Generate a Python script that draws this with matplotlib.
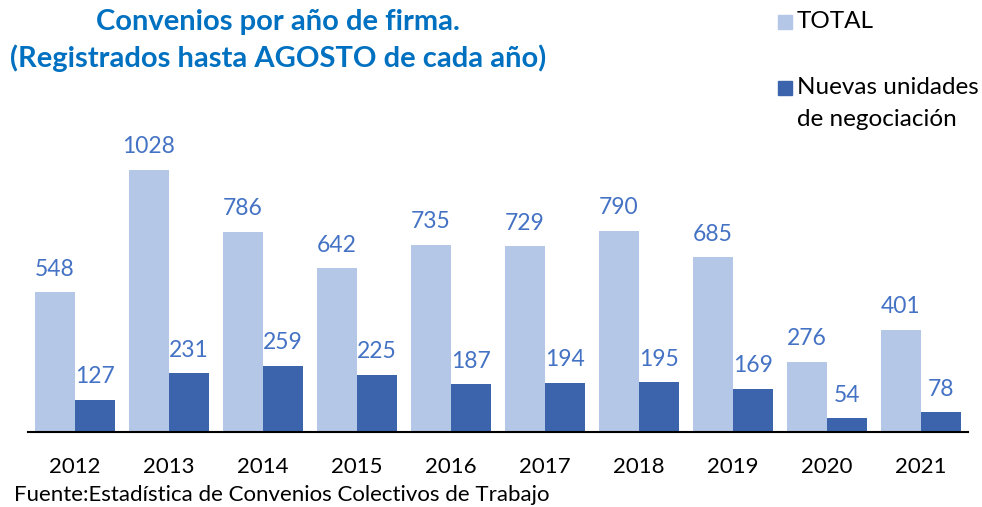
import matplotlib
matplotlib.use("Agg")
import matplotlib.pyplot as plt
from matplotlib.patches import Rectangle
import numpy as np

years = ["2012", "2013", "2014", "2015", "2016", "2017", "2018", "2019", "2020", "2021"]
total = [548, 1028, 786, 642, 735, 729, 790, 685, 276, 401]
nuevas = [127, 231, 259, 225, 187, 194, 195, 169, 54, 78]

plt.rcParams['font.family'] = ['Lato', 'DejaVu Sans']

W, H = 982, 507
fig = plt.figure(figsize=(W/100, H/100), dpi=100)
ax = fig.add_axes([0.0285, 0.1479, 0.9572, 0.6537])

c_light = "#B4C7E7"
c_dark = "#3C64AC"
c_lab = "#4472C4"
w = 0.425
x = np.arange(len(years))
b1 = ax.bar(x - w/2, total, w, color=c_light, label="TOTAL")
b2 = ax.bar(x + w/2, nuevas, w, color=c_dark, label="Nuevas unidades de negociación")
for bars in (b1, b2):
    for r in bars:
        ax.annotate(f"{int(r.get_height())}", (r.get_x() + r.get_width()/2, r.get_height()),
                    xytext=(0, 9), textcoords="offset points", ha="center", va="bottom",
                    fontsize=16.5, color=c_lab)

ax.set_xlim(-0.5, len(years) - 0.5)
ax.set_ylim(0, 1300)
ax.set_xticks(x)
ax.set_xticklabels(years, fontsize=16)
ax.tick_params(axis="x", length=0, pad=18)
ax.set_yticks([])
for s in ("top", "right", "left"):
    ax.spines[s].set_visible(False)
ax.spines["bottom"].set_linewidth(1.5)

fig.text(278/W, 1 - 22/H, "Convenios por año de firma.", ha="center", va="center",
         fontsize=21, fontweight="bold", color="#0070C0")
fig.text(278/W, 1 - 58/H, "(Registrados hasta AGOSTO de cada año)", ha="center", va="center",
         fontsize=21, fontweight="bold", color="#0070C0")

# legend (drawn manually to match layout)
sq = 14
fig.patches.append(Rectangle((778/W, 1 - 29/H), sq/W, sq/H, transform=fig.transFigure,
                             color=c_light, figure=fig))
fig.text(797/W, 1 - 22/H, "TOTAL", ha="left", va="center", fontsize=17.5)
fig.patches.append(Rectangle((778/W, 1 - 95/H), sq/W, sq/H, transform=fig.transFigure,
                             color=c_dark, figure=fig))
fig.text(797/W, 1 - 88/H, "Nuevas unidades", ha="left", va="center", fontsize=17.5)
fig.text(797/W, 1 - 120/H, "de negociación", ha="left", va="center", fontsize=17.5)

fig.text(14/W, 1 - 495/H, "Fuente:Estadística de Convenios Colectivos de Trabajo", fontsize=16,
         ha="left", va="center")

fig.savefig("out.png", dpi=100)
